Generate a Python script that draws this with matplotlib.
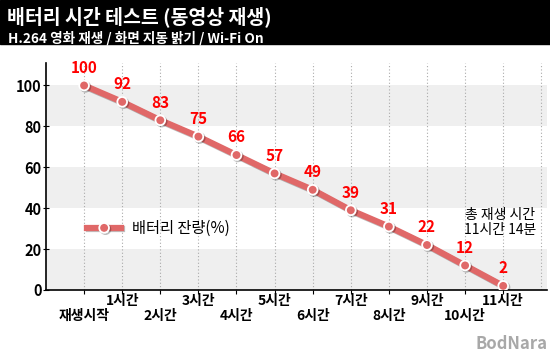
import matplotlib
matplotlib.use('Agg')
import matplotlib.pyplot as plt
import matplotlib.patheffects as pe

plt.rcParams['font.family'] = ['Noto Sans CJK KR', 'DejaVu Sans']

# data
hours = ['재생시작', '1시간', '2시간', '3시간', '4시간', '5시간', '6시간',
         '7시간', '8시간', '9시간', '10시간', '11시간']
battery = [100, 92, 83, 75, 66, 57, 49, 39, 31, 22, 12, 2]
yticks = [0, 20, 40, 60, 80, 100]

title = '배터리 시간 테스트 (동영상 재생)'
subtitle = 'H.264 영화 재생 / 화면 지동 밝기 / Wi-Fi On'
legend_label = '배터리 잔량(%)'
total_note = '총 재생 시간\n11시간 14분'

line_col = '#e06868'

fig = plt.figure(figsize=(5.5, 3.6), dpi=100)
fig.patch.set_facecolor('white')

# header bar
fig.patches.append(plt.Rectangle((0, 1 - 44/360), 1, 44/360, transform=fig.transFigure,
                                 color='black', zorder=0))
fig.text(0.012, 0.953, title, color='white', fontsize=14, fontweight='bold', va='center')
fig.text(0.014, 0.895, subtitle, color='white', fontsize=9.8, fontweight='bold', va='center')

ax = fig.add_axes([46/550, 1 - 290/360, 501/550, 227/360])
x = list(range(len(battery)))

# gray bands
for lo in [0, 40, 80]:
    ax.axhspan(lo, lo + 20, color='#efefef', zorder=0, lw=0)

for xi in range(len(battery) + 1):
    ax.axvline(xi, color='#aaaaaa', ls=(0, (1, 2)), lw=0.8, zorder=1)

ax.plot(x, battery, color=line_col, lw=4.5, marker='o', ms=7, mfc=line_col,
        mec='white', mew=1.3, zorder=3, label=legend_label,
        path_effects=[pe.SimpleLineShadow(offset=(1, -1), alpha=0.25), pe.Normal()])

for xi, v in zip(x, battery):
    ax.annotate(str(v), (xi, v), xytext=(0, 7), textcoords='offset points',
                ha='center', va='bottom', color='red', fontsize=11, fontweight='bold', zorder=4)

ax.set_xlim(-1, 12.15)
ax.set_ylim(0, 111)
ax.set_yticks(yticks)
ax.set_yticklabels([str(t) for t in yticks], fontsize=10.5, fontweight='bold')
ax.set_xticks(x)
# odd hours on the first row, even ones (and start) on a second row
ax.set_xticklabels([h if i % 2 == 1 else '' for i, h in enumerate(hours)],
                   fontsize=10, fontweight='bold')
for i, h in enumerate(hours):
    if i % 2 == 0:
        ax.annotate(h, (i, 0), xycoords=('data', 'axes fraction'), xytext=(0, -19),
                    textcoords='offset points', ha='center', va='center',
                    fontsize=10, fontweight='bold')
ax.tick_params(axis='x', length=3, pad=0)
ax.tick_params(axis='y', length=4, pad=1, direction='inout')
for s in ['top', 'right']:
    ax.spines[s].set_visible(False)
ax.spines['left'].set_linewidth(1.2)
ax.spines['bottom'].set_linewidth(1.2)

leg = ax.legend(loc='center left', bbox_to_anchor=(0.055, 0.27), frameon=False,
                fontsize=11, handlelength=2.2, handletextpad=0.7)

ax.text(10.92, 33, total_note, ha='center', va='center', fontsize=10, linespacing=1.15)

fig.text(0.995, 0.045, 'BodNara', ha='right', va='center', color='#a8a8a8',
         fontsize=12, fontweight='bold')

fig.savefig('out.png', dpi=100)
